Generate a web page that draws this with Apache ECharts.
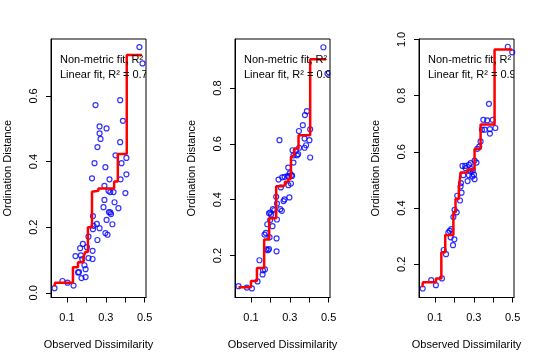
<!DOCTYPE html>
<html><head><meta charset="utf-8">
<script src="https://cdn.jsdelivr.net/npm/echarts@6/dist/echarts.min.js"></script>
<style>html,body{margin:0;padding:0;background:#fff}#c{width:552px;height:362px}</style>
</head><body><div id="c"></div>
<script>
// ---- data ----
const xTicks = [0.1, 0.2, 0.3, 0.4, 0.5];
const xLabels = [0.1, 0.3, 0.5];
const yTicks1 = [0.0, 0.2, 0.4, 0.6];
const yTicks2 = [0.2, 0.4, 0.6, 0.8];
const yTicks3 = [0.2, 0.4, 0.6, 0.8, 1.0];
const xName = 'Observed Dissimilarity';
const yName = 'Ordination Distance';

const points1 = [[0.036,0.014],[0.077,0.036],[0.103,0.031],[0.134,0.022],[0.144,0.112],[0.157,0.062],[0.162,0.063],[0.168,0.136],[0.175,0.045],[0.182,0.149],[0.172,0.114],[0.179,0.103],[0.190,0.084],[0.196,0.072],[0.196,0.048],[0.203,0.139],[0.211,0.106],[0.211,0.171],[0.232,0.103],[0.232,0.128],[0.234,0.234],[0.234,0.194],[0.237,0.204],[0.254,0.210],[0.268,0.197],[0.257,0.161],[0.288,0.261],[0.293,0.283],[0.298,0.182],[0.309,0.177],[0.304,0.222],[0.316,0.246],[0.323,0.245],[0.327,0.240],[0.334,0.209],[0.345,0.276],[0.365,0.258],[0.293,0.326],[0.314,0.311],[0.323,0.307],[0.340,0.307],[0.401,0.304],[0.229,0.349],[0.319,0.346],[0.376,0.346],[0.242,0.395],[0.298,0.383],[0.406,0.361],[0.381,0.395],[0.473,0.749],[0.489,0.699],[0.374,0.587],[0.247,0.572],[0.388,0.524],[0.268,0.507],[0.304,0.501],[0.268,0.486],[0.273,0.469],[0.374,0.459],[0.257,0.444],[0.350,0.419],[0.406,0.411]];
const steps1 = [[0.035,0.019],[0.040,0.031],[0.131,0.078],[0.157,0.093],[0.185,0.108],[0.194,0.124],[0.208,0.200],[0.229,0.308],[0.237,0.311],[0.262,0.318],[0.343,0.339],[0.362,0.423],[0.408,0.725],[0.486,0.725]];

const points2 = [[0.036,0.090],[0.079,0.085],[0.105,0.082],[0.134,0.107],[0.144,0.183],[0.160,0.132],[0.162,0.147],[0.172,0.150],[0.179,0.222],[0.187,0.219],[0.193,0.223],[0.232,0.261],[0.232,0.215],[0.170,0.275],[0.177,0.281],[0.196,0.265],[0.184,0.312],[0.211,0.305],[0.199,0.327],[0.193,0.351],[0.199,0.354],[0.204,0.347],[0.213,0.366],[0.220,0.362],[0.234,0.329],[0.251,0.366],[0.259,0.360],[0.234,0.386],[0.230,0.410],[0.268,0.395],[0.273,0.401],[0.298,0.408],[0.242,0.472],[0.261,0.480],[0.273,0.482],[0.254,0.444],[0.293,0.452],[0.293,0.482],[0.309,0.488],[0.306,0.458],[0.292,0.515],[0.319,0.533],[0.300,0.494],[0.473,0.946],[0.494,0.852],[0.388,0.717],[0.378,0.703],[0.367,0.667],[0.347,0.646],[0.405,0.652],[0.247,0.613],[0.376,0.619],[0.401,0.613],[0.384,0.595],[0.376,0.586],[0.348,0.586],[0.314,0.577],[0.331,0.575],[0.337,0.559],[0.319,0.559],[0.343,0.563],[0.405,0.551],[0.290,0.485],[0.312,0.485]];
const steps2 = [[0.036,0.086],[0.100,0.109],[0.131,0.155],[0.168,0.257],[0.194,0.333],[0.230,0.448],[0.262,0.452],[0.275,0.464],[0.293,0.475],[0.306,0.553],[0.310,0.560],[0.323,0.583],[0.345,0.631],[0.405,0.903],[0.487,0.903]];

const points3 = [[0.037,0.114],[0.081,0.144],[0.105,0.126],[0.136,0.150],[0.145,0.251],[0.157,0.236],[0.193,0.268],[0.200,0.289],[0.181,0.296],[0.169,0.313],[0.176,0.319],[0.184,0.325],[0.195,0.368],[0.201,0.394],[0.212,0.385],[0.215,0.444],[0.229,0.427],[0.234,0.489],[0.232,0.477],[0.237,0.455],[0.246,0.517],[0.242,0.550],[0.256,0.550],[0.268,0.496],[0.275,0.517],[0.284,0.560],[0.287,0.539],[0.301,0.519],[0.304,0.503],[0.314,0.562],[0.295,0.533],[0.475,0.974],[0.498,0.954],[0.378,0.771],[0.349,0.714],[0.369,0.712],[0.397,0.714],[0.342,0.679],[0.356,0.679],[0.383,0.681],[0.411,0.685],[0.383,0.665],[0.335,0.637],[0.328,0.619],[0.318,0.611],[0.304,0.569],[0.275,0.554],[0.258,0.542],[0.284,0.530],[0.292,0.512]];
const steps3 = [[0.035,0.118],[0.038,0.136],[0.105,0.150],[0.133,0.243],[0.153,0.304],[0.195,0.385],[0.206,0.432],[0.223,0.465],[0.232,0.527],[0.267,0.536],[0.304,0.610],[0.335,0.697],[0.407,0.964],[0.498,0.964]];

const fitText1 = ['Non-metric fit, R\u00b2 = 0.952', 'Linear fit, R\u00b2 = 0.746'];
const fitText2 = ['Non-metric fit, R\u00b2 = 0.991', 'Linear fit, R\u00b2 = 0.963'];
const fitText3 = ['Non-metric fit, R\u00b2 = 0.995', 'Linear fit, R\u00b2 = 0.984'];

// ---- layout ----
const FONT = 'Liberation Sans, Arial, sans-serif';
const panels = [
  {pts: points1, steps: steps1, yTicks: yTicks1, yMin: -0.0143, yMax: 0.7735, text: fitText1, left: 51},
  {pts: points2, steps: steps2, yTicks: yTicks2, yMin: 0.0495, yMax: 0.9756, text: fitText2, left: 235},
  {pts: points3, steps: steps3, yTicks: yTicks3, yMin: 0.082, yMax: 1.0015, text: fitText3, left: 419}
];
const X_MIN = 0.018, X_MAX = 0.507;

const grid = [], xAxis = [], yAxis = [], series = [];
panels.forEach((p, i) => {
  grid.push({left: p.left, top: 39, width: 95, height: 258.5, show: true,
    borderColor: '#000', borderWidth: 1, backgroundColor: 'transparent', containLabel: false});
  xAxis.push({type: 'value', gridIndex: i, min: X_MIN, max: X_MAX,
    name: xName, nameLocation: 'middle', nameGap: 42,
    nameTextStyle: {color: '#000', fontSize: 11, fontFamily: FONT},
    axisLine: {show: true, onZero: false, lineStyle: {color: '#000', width: 1}},
    axisTick: {show: true, length: 5, customValues: xTicks, lineStyle: {color: '#000'}},
    axisLabel: {show: true, customValues: xLabels, margin: 15, color: '#000', fontSize: 11, fontFamily: FONT,
      formatter: v => v.toFixed(1)},
    splitLine: {show: false}});
  yAxis.push({type: 'value', gridIndex: i, min: p.yMin, max: p.yMax,
    name: yName, nameLocation: 'middle', nameGap: 38,
    nameTextStyle: {color: '#000', fontSize: 11, fontFamily: FONT},
    axisLine: {show: true, onZero: false, lineStyle: {color: '#000', width: 1}},
    axisTick: {show: true, length: 5, customValues: p.yTicks, lineStyle: {color: '#000'}},
    axisLabel: {show: true, customValues: p.yTicks, rotate: 90, margin: 12, color: '#000', fontSize: 11, fontFamily: FONT,
      formatter: v => v.toFixed(1)},
    splitLine: {show: false}});
  series.push({type: 'scatter', xAxisIndex: i, yAxisIndex: i, data: p.pts, symbol: 'circle', symbolSize: 5,
    itemStyle: {color: 'rgba(0,0,0,0)', borderColor: '#0000ff', borderWidth: 1.2}, z: 2, silent: true, animation: false});
  series.push({type: 'line', xAxisIndex: i, yAxisIndex: i, data: p.steps, step: 'end', showSymbol: false, symbol: 'none',
    lineStyle: {color: '#ff0000', width: 2.5}, z: 3, silent: true, animation: false, clip: true});
  series.push({type: 'custom', xAxisIndex: i, yAxisIndex: i, clip: true, z: 4, silent: true, animation: false,
    data: p.text.map((t, k) => [k]),
    renderItem: (params, api) => {
      const cs = params.coordSys;
      const k = params.dataIndex;
      return {type: 'text', x: cs.x + 9, y: cs.y + 21 + k * 15,
        style: {text: p.text[k], fill: '#000', font: '11px ' + FONT, textVerticalAlign: 'middle', verticalAlign: 'middle'}};
    }});
});

const chart = echarts.init(document.getElementById('c'), null, {renderer: 'canvas'});
chart.setOption({animation: false, backgroundColor: '#fff', grid, xAxis, yAxis, series});
</script></body></html>
